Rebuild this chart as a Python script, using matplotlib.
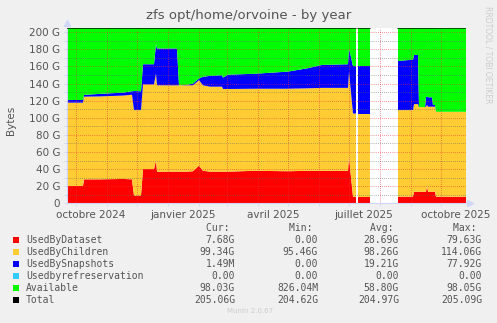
import numpy as np
import matplotlib
matplotlib.use("Agg")
import matplotlib.pyplot as plt
from matplotlib.patches import Rectangle

W, H = 497, 323
nan = np.nan

# breakpoints (GB)
dates = np.array([
    "2024-09-22", "2024-10-08", "2024-10-09", "2024-10-25", "2024-11-17", "2024-11-26",
    "2024-11-28", "2024-12-05", "2024-12-07", "2024-12-18", "2024-12-20", "2024-12-21",
    "2025-01-10", "2025-01-12", "2025-01-20", "2025-01-26", "2025-02-01", "2025-02-05",
    "2025-02-12", "2025-02-24", "2025-02-25", "2025-03-02", "2025-03-29", "2025-05-01",
    "2025-05-21", "2025-06-04", "2025-06-30", "2025-07-01", "2025-07-05", "2025-07-08",
    "2025-07-09", "2025-07-10", "2025-07-22", "2025-08-05", "2025-08-19", "2025-09-03",
    "2025-09-04", "2025-09-08", "2025-09-09", "2025-09-15", "2025-09-16", "2025-09-17",
    "2025-09-18", "2025-09-22", "2025-09-23", "2025-09-25", "2025-09-26", "2025-10-26",
], dtype="datetime64[D]")
dataset = [20.2, 20.2, 28.0, 28.0, 28.5, 28.0, 9.0, 9.0, 40.0, 40.0, 50.0, 37.0,
           37.0, 37.0, 37.0, 37.5, 44.0, 38.0, 37.0, 37.0, 37.0, 37.0, 38.0, 37.5,
           38.0, 38.0, 38.0, 54.5, 7.7, 7.7, nan, 7.7, 7.7, nan, 7.7, 7.7,
           13.5, 13.5, 13.5, 13.5, 13.5, 20.0, 13.5, 13.5, 13.5, 13.5, 7.68, 7.68]
children = [97.5, 97.5, 96.7, 97.0, 97.5, 99.0, 100.0, 100.0, 99.0, 99.0, 102.0, 101.0,
            101.0, 101.0, 101.0, 100.5, 100.0, 100.0, 99.4, 99.4, 96.7, 96.7, 96.0, 96.5,
            96.5, 97.0, 97.0, 99.5, 97.3, 97.3, nan, 97.3, 97.3, nan, 101.3, 101.3,
            102.5, 102.5, 99.0, 99.0, 99.5, 95.0, 99.5, 99.5, 99.5, 99.5, 99.34, 99.34]
snapshots = [3.1, 3.1, 2.0, 3.0, 3.4, 4.0, 22.3, 22.0, 23.6, 23.6, 34.0, 43.0,
             43.0, 0.0, 0.5, 2.0, 2.0, 10.0, 12.6, 13.3, 13.3, 16.7, 17.5, 20.0,
             23.5, 26.8, 27.6, 27.0, 55.5, 55.5, nan, 55.6, 55.6, nan, 57.4, 59.0,
             57.5, 57.5, 0.0, 0.0, 11.0, 10.0, 11.0, 11.0, 2.0, 2.0, 0.0, 0.0]
refreserv = [0.0] * len(dates)
available = [84.2, 84.2, 78.3, 77.0, 75.6, 74.0, 73.7, 74.0, 42.4, 42.4, 19.0, 24.0,
             24.0, 67.0, 66.5, 65.0, 59.0, 57.0, 56.0, 55.3, 58.0, 54.6, 53.5, 51.0,
             47.0, 43.2, 42.4, 24.0, 44.5, 44.5, nan, 44.4, 44.4, nan, 38.6, 37.0,
             31.5, 31.5, 92.5, 92.5, 81.0, 80.0, 81.0, 81.0, 90.0, 90.0, 98.03, 98.03]

names = ["UsedByDataset", "UsedByChildren", "UsedBySnapshots",
         "Usedbyrefreservation", "Available", "Total"]
colors = ["#FF0000", "#FFCC33", "#0000FF", "#33CCFF", "#00FF00", "#000000"]
cur = ["7.68G", "99.34G", "1.49M", "0.00", "98.03G", "205.06G"]
vmin = ["0.00", "95.46G", "0.00", "0.00", "826.04M", "204.62G"]
avg = ["28.69G", "98.26G", "19.21G", "0.00", "58.80G", "204.97G"]
vmax = ["79.63G", "114.06G", "77.92G", "0.00", "98.05G", "205.09G"]

xticks = np.array(["2024-10-16", "2025-01-16", "2025-04-16", "2025-07-16", "2025-10-16"],
                  dtype="datetime64[D]")
xlabels = ["octobre 2024", "janvier 2025", "avril 2025", "juillet 2025", "octobre 2025"]
months = np.arange(np.datetime64("2024-10"), np.datetime64("2025-11")).astype("datetime64[D]")

fig = plt.figure(figsize=(W / 100, H / 100), dpi=100, facecolor="#F0F0F0")
ax = fig.add_axes([67 / W, (H - 203.3) / H, (466 - 67) / W, (203.3 - 28) / H])
ax.set_facecolor("white")

series = [dataset, children, snapshots, refreserv, available]
base = np.zeros(len(dates))
for vals, c in zip(series, colors[:5]):
    top = base + np.array(vals, dtype=float)
    ax.fill_between(dates, base, top, color=c, lw=0, zorder=1)
    base = top
ax.plot(dates, base, color="black", lw=1.0, zorder=3)

ax.set_xlim(np.datetime64("2024-09-22"), np.datetime64("2025-10-26"))
ax.set_ylim(0, 205)
ax.set_yticks(np.arange(0, 201, 20))
ax.set_yticklabels(["0"] + [f"{v} G" for v in range(20, 201, 20)])
ax.set_yticks(np.arange(10, 201, 20), minor=True)
ax.set_xticks(xticks)
ax.set_xticklabels(xlabels)
ax.set_xticks(months, minor=True)

ax.set_axisbelow(False)
dot = (0, (1, 2))
ax.grid(which="minor", axis="x", color=(0.9, 0.2, 0.2, 0.3), ls=dot, lw=0.5)
ax.grid(which="major", axis="y", color=(0.9, 0.2, 0.2, 0.3), ls=dot, lw=0.5)
ax.grid(which="minor", axis="y", color=(0.4, 0.4, 0.4, 0.25), ls=dot, lw=0.5)
ax.tick_params(axis="both", which="both", colors="#CFD6F8", labelcolor="#555555",
               labelsize=7.5, length=2, width=0.6, pad=3)
ax.tick_params(axis="x", which="major", length=0, pad=5)
for s in ["top", "right"]:
    ax.spines[s].set_visible(False)
for s in ["left", "bottom"]:
    ax.spines[s].set_color("#CFD6F8")
    ax.spines[s].set_linewidth(0.8)
ax.plot(1.01, 0, marker=">", ms=4, color="#CFD6F8", transform=ax.transAxes, clip_on=False)
ax.plot(0, 1.03, marker="^", ms=4, color="#CFD6F8", transform=ax.transAxes, clip_on=False)

fig.text(0.5, 1 - 16 / H, "zfs opt/home/orvoine - by year", ha="center", va="center",
         fontsize=9.5, color="#555555")
fig.text(11 / W, 1 - 120 / H, "Bytes", rotation=90, ha="center", va="center",
         fontsize=7.5, color="#555555")
fig.text(488 / W, 1 - 55 / H, "RRDTOOL / TOBI OETIKER", rotation=270, ha="center",
         va="center", fontsize=5.5, color="#CCCCCC")
fig.text(250 / W, 1 - 311 / H, "Munin 2.0.67", ha="center", va="center",
         fontsize=5, color="#CCCCCC")

mono = dict(family="DejaVu Sans Mono", fontsize=7, color="#555555", va="center")
hy = 228
for lab, xr in zip(["Cur:", "Min:", "Avg:", "Max:"], [235, 318, 399, 482]):
    fig.text(xr / W, 1 - hy / H, lab + " ", ha="right", **mono)
for i, name in enumerate(names):
    y = 240 + 12 * i
    fig.add_artist(Rectangle((13 / W, 1 - (y + 3) / H), 6 / W, 6 / H,
                             transform=fig.transFigure, color=colors[i], lw=0))
    fig.text(26 / W, 1 - y / H, name, ha="left", **mono)
    for v, xr in zip([cur[i], vmin[i], avg[i], vmax[i]], [235, 318, 399, 482]):
        fig.text(xr / W, 1 - y / H, v, ha="right", **mono)

fig.savefig("out.png", dpi=100, facecolor=fig.get_facecolor())
